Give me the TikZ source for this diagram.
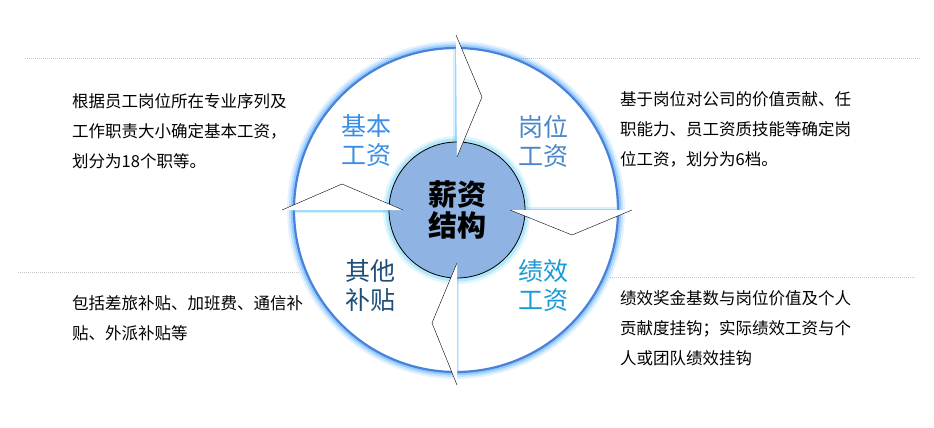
\documentclass[tikz,border=0pt]{standalone}
\usepackage{fontspec}
\setmainfont{Noto Sans CJK SC}
\definecolor{ringblue}{RGB}{74,130,215}
\begin{document}
\begin{tikzpicture}[x=1pt,y=-1pt]
\tikzset{desc/.style={anchor=north west,align=left,inner sep=0pt,font=\fontsize{16.5}{30}\selectfont},
  quad/.style={align=center,inner sep=0pt,font=\fontsize{25}{29}\selectfont},
  sep/.style={gray!45,dash pattern=on 1pt off 1pt},
  wedge/.style={fill=white,draw=none}}
\useasboundingbox (0,0) rectangle (934,428);
% dashed rules
\draw [sep] (25,58) -- (920,58);
\draw [sep] (18,272) -- (300,272);
\draw [sep] (610,277) -- (915,277);
% outer ring with glow
\foreach \w/\o in {14/0.1,10/0.15,6/0.25} \draw [blue!50!cyan,line width=\w pt,opacity=\o] (456,210) circle (162);
\fill [white] (456,210) circle (162);
\draw [ringblue,line width=2.2pt] (456,210) circle (162);
% quadrant separators
\foreach \w/\o in {6/0.25,3/0.5} \draw [blue!40!cyan!60,line width=\w pt,opacity=\o] (294,210) -- (618,210) (456,48) -- (456,372);
% inner circle
\foreach \w/\o in {12/0.2,7/0.35} \draw [cyan!60,line width=\w pt,opacity=\o] (457,210) circle (68);
\node (core) [circle,minimum size=136pt,fill={rgb,255:red,143;green,180;blue,227},draw=black,thick,
  font=\fontsize{29}{31}\selectfont\bfseries,align=center] at (457,210) {薪资\\结构};
% arrows
\coordinate (tA) at (456,35); \coordinate (tB) at (482,97); \coordinate (tC) at (457,157);
\coordinate (rA) at (632,210); \coordinate (rB) at (572,235); \coordinate (rC) at (510,210);
\coordinate (lA) at (282,210); \coordinate (lB) at (342,184); \coordinate (lC) at (403,210);
\coordinate (bA) at (457,263); \coordinate (bB) at (432,323); \coordinate (bC) at (457,385);
\foreach \p in {t,r,l,b} {
  \fill [wedge] (\p A) -- (\p B) -- (\p C) -- cycle;
  \draw [black,line join=miter] (\p A) -- (\p B) -- (\p C);
}
% quadrant labels
\node (basic) [quad,text={rgb,255:red,58;green,142;blue,230}] at (366,141) {基本\\工资};
\node (post) [quad,text={rgb,255:red,74;green,134;blue,200}] at (543,141) {岗位\\工资};
\node (other) [quad,text={rgb,255:red,31;green,78;blue,121}] at (370,286) {其他\\补贴};
\node (perf) [quad,text={rgb,255:red,26;green,154;blue,214}] at (543,286) {绩效\\工资};
% descriptions
\node (dBasic) [desc] at (72,93) {根据员工岗位所在专业序列及\\工作职责大小确定基本工资，\\划分为18个职等。};
\node (dPost) [desc] at (620,91) {基于岗位对公司的价值贡献、任\\职能力、员工资质技能等确定岗\\位工资，划分为6档。};
\node (dOther) [desc] at (72,295) {包括差旅补贴、加班费、通信补\\贴、外派补贴等};
\node (dPerf) [desc] at (620,290) {绩效奖金基数与岗位价值及个人\\贡献度挂钩；实际绩效工资与个\\人或团队绩效挂钩};
\end{tikzpicture}
\end{document}
